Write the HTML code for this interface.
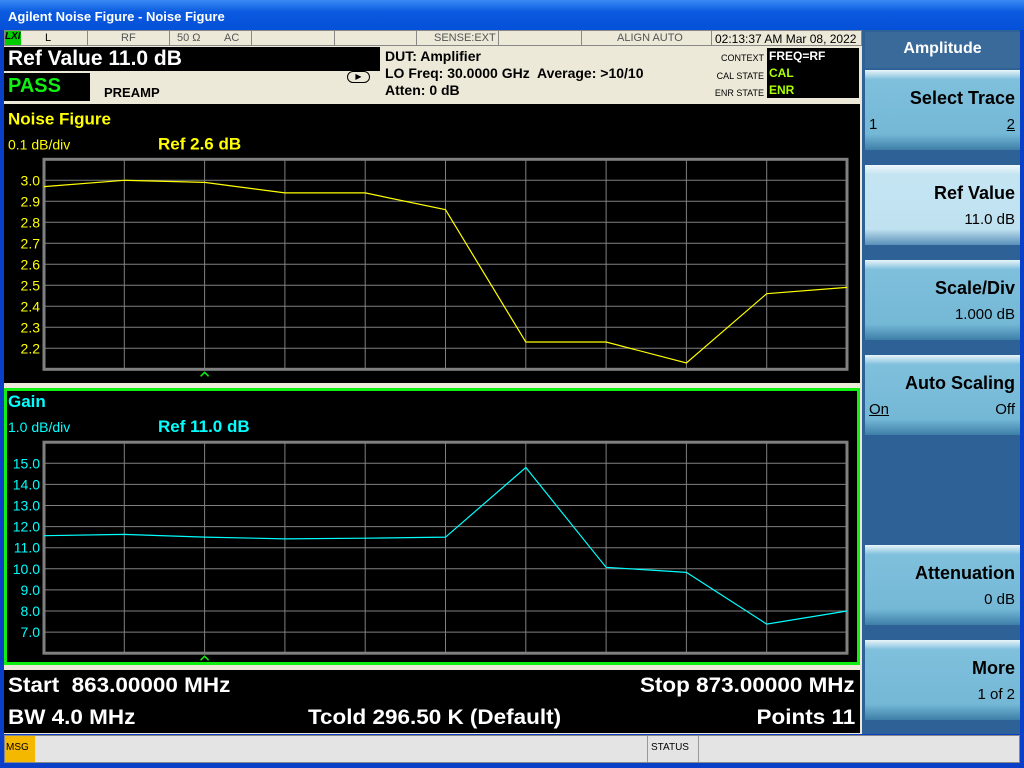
<!DOCTYPE html>
<html><head><meta charset="utf-8"><style>
*{margin:0;padding:0;box-sizing:border-box}
body{width:1024px;height:768px;overflow:hidden;background:#0a3fc8;font-family:"Liberation Sans",sans-serif;position:relative}
.a{position:absolute}
.sk{position:absolute;left:865px;width:155px;background:linear-gradient(#e8f4fa 0,#7fc0dc 12%,#74b8d6 80%,#3e7fa8 100%);color:#000;font-weight:bold}
.sk .t{position:absolute;right:5px;top:18px;font-size:18px}
.sk .v{position:absolute;right:5px;top:46px;font-size:15px;font-weight:normal}
.ft{position:absolute;white-space:nowrap;font-size:21px;transform-origin:left top;transform:scaleX(1.07)}
.fr{transform-origin:right top}
</style></head><body>
<div class="a" style="left:0;top:0;width:1024px;height:30px;background:linear-gradient(#3a8af5,#0a5ae0 40%,#0550d8);color:#fff;font-size:13px;font-weight:bold;padding:9px 0 0 8px">Agilent Noise Figure - Noise Figure</div>
<div class="a" style="left:4px;top:30px;width:858px;height:16px;background:#ece9d8;border:1px solid #888;font-size:11px;color:#555">
<span class="a" style="left:0;top:0;width:16px;height:14px;background:#0c0;color:#000;font-weight:bold;font-style:italic;font-size:10px">LXI</span>
<span class="a" style="left:40px;top:1px;color:#000">L</span><span class="a" style="left:82px;top:0;width:1px;height:14px;background:#888"></span>
<span class="a" style="left:116px;top:1px">RF</span><span class="a" style="left:164px;top:0;width:1px;height:14px;background:#888"></span>
<span class="a" style="left:172px;top:1px">50 Ω</span><span class="a" style="left:219px;top:1px">AC</span><span class="a" style="left:246px;top:0;width:1px;height:14px;background:#888"></span>
<span class="a" style="left:329px;top:0;width:1px;height:14px;background:#888"></span><span class="a" style="left:411px;top:0;width:1px;height:14px;background:#888"></span>
<span class="a" style="left:429px;top:1px">SENSE:EXT</span><span class="a" style="left:493px;top:0;width:1px;height:14px;background:#888"></span>
<span class="a" style="left:576px;top:0;width:1px;height:14px;background:#888"></span>
<span class="a" style="left:612px;top:1px">ALIGN AUTO</span><span class="a" style="left:706px;top:0;width:1px;height:14px;background:#888"></span>
<span class="a" style="left:710px;top:1px;color:#000;font-size:12px">02:13:37 AM Mar 08, 2022</span></div>
<div class="a" style="left:4px;top:46px;width:858px;height:56px;background:#ece9d8"></div>
<div class="a" style="left:4px;top:47px;width:376px;height:24px;background:#000;color:#fff;font-size:21px;font-weight:bold;padding:0 0 0 4px">Ref Value 11.0 dB</div>
<div class="a" style="left:4px;top:73px;width:86px;height:28px;background:#000;color:#1e1;font-size:20px;font-weight:bold;padding:2px 0 0 4px">PASS</div>
<div class="a" style="left:104px;top:85px;font-size:13px;font-weight:bold">PREAMP</div>
<div class="a" style="left:347px;top:71px;width:23px;height:12px;border:1px solid #000;border-radius:6px;font-size:8px;text-align:center;line-height:10px">▶</div>
<div class="a" style="left:385px;top:48px;font-size:14px;font-weight:bold;line-height:17px">DUT: Amplifier<br>LO Freq: 30.0000 GHz&nbsp; Average: &gt;10/10<br>Atten: 0 dB</div>
<div class="a" style="left:700px;top:50px;font-size:9px;text-align:right;width:64px;line-height:17.5px">CONTEXT<br>CAL STATE<br>ENR STATE</div>
<div class="a" style="left:767px;top:48px;width:92px;height:50px;background:#000;font-size:12px;font-weight:bold;line-height:17px;padding-left:2px"><span style="color:#fff">FREQ=RF</span><br><span style="color:#af0">CAL</span><br><span style="color:#af0">ENR</span></div>
<div class="a" style="left:4px;top:102px;width:858px;height:632px;background:#ece9d8"></div>
<div class="a" style="left:4px;top:104px;width:856px;height:279px;background:#000"></div>
<div class="a" style="left:4px;top:388px;width:856px;height:277px;background:#000;border:3px solid #1e1"></div>
<div class="a" style="left:4px;top:670px;width:856px;height:63px;background:#000;color:#fff;font-weight:bold;overflow:hidden">
<span class="ft" style="left:4px;top:4px">Start&nbsp; 863.00000 MHz</span><span class="ft fr" style="right:5px;top:4px">Stop 873.00000 MHz</span>
<span class="ft" style="left:4px;top:36px">BW 4.0 MHz</span><span class="ft" style="left:304px;top:36px">Tcold 296.50 K (Default)</span><span class="ft fr" style="right:5px;top:36px">Points 11</span></div>
<svg class="a" style="left:0;top:0" width="1024" height="768" id="chart"></svg>
<div class="a" style="left:4px;top:735px;width:1016px;height:28px;background:#e4e4e4;border:1px solid #888;font-size:10px">
<span class="a" style="left:0;top:0;width:30px;height:26px;background:#f5b800;padding:6px 0 0 1px">MSG</span>
<span class="a" style="left:642px;top:0;width:52px;height:26px;border-left:1px solid #999;border-right:1px solid #999;padding:6px 0 0 3px">STATUS</span></div>
<div class="a" style="left:862px;top:30px;width:158px;height:704px;background:#2e6296"></div>
<div class="a" style="left:865px;top:32px;width:155px;height:36px;background:#3a6a9a;color:#fff;font-weight:bold;font-size:16px;text-align:center;padding-top:8px">Amplitude</div>
<div class="sk" style="top:70px;height:80px"><span class="t">Select Trace</span><span class="v" style="left:4px;right:auto">1</span><span class="v" style="text-decoration:underline">2</span></div>
<div class="sk" style="top:165px;height:80px;background:linear-gradient(#f0f8fc 0,#c4e4f2 12%,#c0e2f0 80%,#5a90b8 100%)"><span class="t">Ref Value</span><span class="v">11.0 dB</span></div>
<div class="sk" style="top:260px;height:80px"><span class="t">Scale/Div</span><span class="v">1.000 dB</span></div>
<div class="sk" style="top:355px;height:80px"><span class="t">Auto Scaling</span><span class="v" style="left:4px;right:auto;text-decoration:underline">On</span><span class="v">Off</span></div>
<div class="sk" style="top:545px;height:80px"><span class="t">Attenuation</span><span class="v">0 dB</span></div>
<div class="sk" style="top:640px;height:80px"><span class="t">More</span><span class="v">1 of 2</span></div>
<script>
const points=[0,1,2,3,4,5,6,7,8,9,10];
const nfValues=[2.97,3.0,2.99,2.94,2.94,2.86,2.23,2.23,2.13,2.46,2.49];
const gainValues=[11.57,11.63,11.5,11.42,11.45,11.5,14.8,10.07,9.83,7.38,8.0];
const nfTicks=[3.0,2.9,2.8,2.7,2.6,2.5,2.4,2.3,2.2];
const gainTicks=[15.0,14.0,13.0,12.0,11.0,10.0,9.0,8.0,7.0];
const svg=document.getElementById('chart');
const NS='http://www.w3.org/2000/svg';
function mk(tag,attrs){const e=document.createElementNS(NS,tag);for(const k in attrs)e.setAttribute(k,attrs[k]);svg.appendChild(e);return e;}
const X0=44,X1=847;
function x(i){return X0+(X1-X0)*i/10;}
function drawPlot(top,bottom,min,max,ticks,values,color,title,scale,ref,name){
  const y=v=>bottom-(v-min)/(max-min)*(bottom-top);
  let t=mk('text',{x:8,y:top-35,fill:color,'font-size':17,'font-weight':'bold','font-family':'Liberation Sans'});t.textContent=title;
  
  
  t=mk('text',{x:8,y:top-10,fill:color,'font-size':14,'font-family':'Liberation Sans'});t.textContent=scale;
  
  
  t=mk('text',{x:158,y:top-10,fill:color,'font-size':17,'font-weight':'bold','font-family':'Liberation Sans'});t.textContent=ref;
  
  
  for(let i=1;i<10;i++){const l=mk('line',{x1:x(i),x2:x(i),y1:top,y2:bottom,stroke:'#808080','stroke-width':1});
    
    }
  ticks.forEach(v=>{const l=mk('line',{x1:X0,x2:X1,y1:y(v),y2:y(v),stroke:'#808080','stroke-width':1});
    
    
    const tx=mk('text',{x:40,y:y(v)+5,fill:color,'font-size':14,'text-anchor':'end','font-family':'Liberation Sans'});tx.textContent=v.toFixed(1);
    
    });
  const f=mk('rect',{x:X0,y:top,width:X1-X0,height:bottom-top,fill:'none',stroke:'#808080','stroke-width':3});
  
  
  const p=mk('polyline',{points:values.map((v,i)=>x(points[i])+','+y(v)).join(' '),fill:'none',stroke:color,'stroke-width':1.2});
  
  
  const m=mk('polyline',{points:`${x(2)-4},${bottom+7} ${x(2)},${bottom+3} ${x(2)+4},${bottom+7}`,fill:'none',stroke:'#1e1','stroke-width':1.5});
  
  
}
drawPlot(159.3,369.3,2.1,3.1,nfTicks,nfValues,'#ffff00','Noise Figure','0.1 dB/div','Ref 2.6 dB','noise-figure');
drawPlot(442.2,653.2,6,16,gainTicks,gainValues,'#00ffff','Gain','1.0 dB/div','Ref 11.0 dB','gain');
</script>
</body></html>
